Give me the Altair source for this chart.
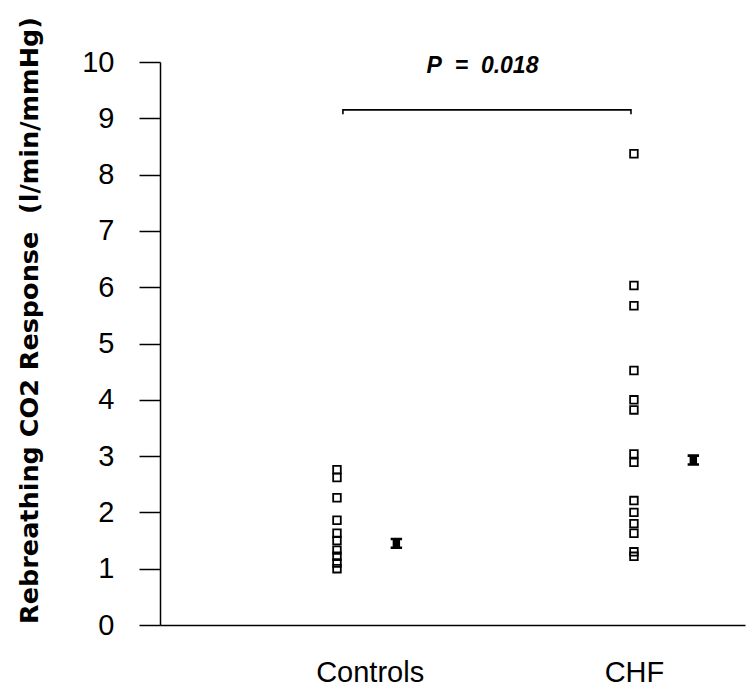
import altair as alt
import pandas as pd

# ---- data ----
groups = ["Controls", "CHF"]
group_pos = [1.0, 2.0]
controls = [2.76, 2.62, 2.26, 1.86, 1.63, 1.50, 1.33, 1.22, 1.10, 1.00]
chf = [8.37, 6.03, 5.67, 4.52, 4.00, 3.82, 3.04, 2.89, 2.21, 2.00, 1.80, 1.63, 1.30, 1.22]
means = [1.45, 2.93]
mean_shift = 0.2
label_pos = [1.11, 2.0]
p_label = "P\u00a0\u00a0=\u00a0\u00a00.018"
p_x = [1.49]
p_y = [9.80]
bracket_x = [1.02, 1.02, 1.99, 1.99]
bracket_y = [9.07, 9.15, 9.15, 9.07]
y_ticks = list(range(0, 11))

points_df = pd.DataFrame({
    "x": [group_pos[0]] * len(controls) + [group_pos[1]] * len(chf),
    "y": controls + chf,
})
means_df = pd.DataFrame({"x": [p + mean_shift for p in group_pos], "y": means})
bracket_df = pd.DataFrame({"x": bracket_x, "y": bracket_y, "o": list(range(len(bracket_x)))})
p_df = pd.DataFrame({"x": p_x, "y": p_y, "t": [p_label]})

xscale = alt.Scale(domain=[0.404, 2.374], nice=False, zero=False)
yscale = alt.Scale(domain=[0, 10], nice=False)

label_expr = f"datum.value < 1.5 ? '{groups[0]}' : '{groups[1]}'"

xaxis = alt.Axis(
    values=label_pos, labelExpr=label_expr, ticks=False, grid=False,
    domainColor="black", domainWidth=1.5,
    labelFont="Liberation Sans", labelFontSize=29, labelColor="black",
    labelPadding=33, title=None,
)
yaxis = alt.Axis(
    values=y_ticks, format="d", tickSize=21, tickWidth=1.5, tickColor="black", grid=False,
    domainColor="black", domainWidth=1.5,
    labelFont="Liberation Sans", labelFontSize=29, labelFontWeight=500,
    labelPadding=25, labelColor="black",
    title="Rebreathing CO2 Response\u00a0\u00a0(l/min/mmHg)",
    titleFont="DejaVu Sans", titleFontWeight="bold", titleFontSize=25.5,
    titleColor="black", titleX=-131, titleY=258, titleAngle=270,
    titleAlign="center", titleBaseline="middle",
)

points = alt.Chart(points_df).mark_point(
    shape="square", filled=False, size=58, strokeWidth=1.8, color="black", opacity=1
).encode(
    x=alt.X("x:Q", scale=xscale, axis=xaxis),
    y=alt.Y("y:Q", scale=yscale, axis=yaxis),
)

ibeam = "M-1,-1H1V-0.55H0.65V0.55H1V1H-1V0.55H-0.65V-0.55H-1Z"
mean_marks = alt.Chart(means_df).mark_point(
    shape=ibeam, filled=True, size=130, color="black", opacity=1
).encode(x=alt.X("x:Q", scale=xscale), y=alt.Y("y:Q", scale=yscale))

bracket = alt.Chart(bracket_df).mark_line(color="black", strokeWidth=1.6).encode(
    x=alt.X("x:Q", scale=xscale), y=alt.Y("y:Q", scale=yscale), order="o:Q"
)

ptext = alt.Chart(p_df).mark_text(
    font="Liberation Sans", fontSize=23, fontStyle="italic", fontWeight="bold",
    baseline="alphabetic", align="center", color="black",
).encode(x=alt.X("x:Q", scale=xscale), y=alt.Y("y:Q", scale=yscale), text="t:N")

chart = alt.layer(points, mean_marks, bracket, ptext).properties(
    width=585, height=563,
    autosize=alt.AutoSizeParams(type="none"),
    padding={"left": 160, "top": 62, "right": 2, "bottom": 67},
    background="white",
).configure_view(stroke=None)

chart.save("out.html", embed_options={"renderer": "svg", "actions": False})
